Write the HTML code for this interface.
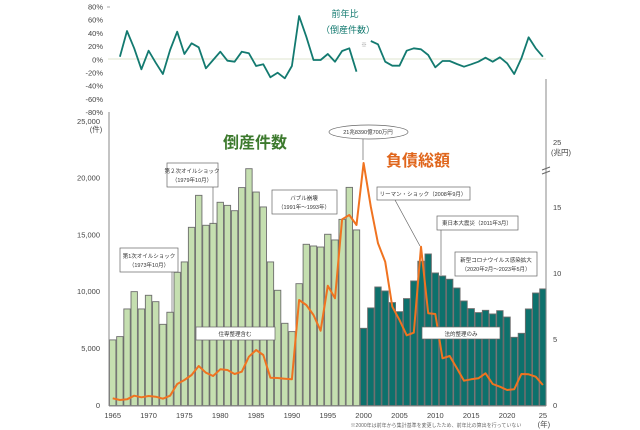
<!DOCTYPE html>
<html><head><meta charset="utf-8"><style>
body{margin:0;background:#fff;}
svg{display:block;font-family:"Liberation Sans","Noto Sans CJK JP",sans-serif;}
</style></head><body>
<svg id="s" width="640" height="430" viewBox="0 0 640 430" xmlns="http://www.w3.org/2000/svg">
<rect width="640" height="430" fill="#fff"/>
<g id="bars"></g>
<!-- axes -->
<line x1="109" y1="112" x2="109" y2="406" stroke="#888" stroke-width="1"/>
<line x1="107" y1="7" x2="110" y2="7" stroke="#aaa" stroke-width="1"/>
<line x1="109" y1="406" x2="546" y2="406" stroke="#888" stroke-width="1"/>
<line x1="546" y1="79" x2="546" y2="406" stroke="#888" stroke-width="1"/>
<path d="M542,170 l8,-3 M542,174 l8,-3" stroke="#666" stroke-width="1"/>
<line x1="108" y1="59" x2="546" y2="59" stroke="#dfe6cf" stroke-width="1"/>
<g id="lab" font-size="7.5" fill="#444"></g>
<path id="top" fill="none" stroke="#137a70" stroke-width="1.8" stroke-linejoin="round"/>
<path id="top2" fill="none" stroke="#137a70" stroke-width="1.8" stroke-linejoin="round"/>
<path id="debt" fill="none" stroke="#f07320" stroke-width="2" stroke-linejoin="round"/>
<text x="345" y="17" font-size="9" fill="#137a70" text-anchor="middle">前年比</text>
<text x="348" y="33" font-size="9" fill="#137a70" text-anchor="middle">（倒産件数）</text>
<text x="364" y="47" font-size="6" fill="#999" text-anchor="middle">※</text>
<text x="255" y="148" font-size="16" font-weight="bold" fill="#3d7a2e" text-anchor="middle">倒産件数</text>
<text x="418" y="166" font-size="16" font-weight="bold" fill="#e0661c" text-anchor="middle">負債総額</text>
<!-- annotations -->
<g stroke="#666" stroke-width="0.7" fill="#fff" font-size="5.5">
<line x1="172" y1="272" x2="172" y2="312"/>
<rect x="120" y="248" width="58" height="24"/>
<line x1="213" y1="187" x2="213" y2="224"/>
<rect x="167" y="163" width="51" height="24"/>
<rect x="272" y="190" width="65" height="24"/>
<rect x="196" y="327" width="79" height="13"/>
<line x1="363" y1="139" x2="363" y2="160"/>
<ellipse cx="368.5" cy="132" rx="39.5" ry="7"/>
<line x1="395" y1="200" x2="420" y2="246"/>
<rect x="377" y="187" width="93" height="13"/>
<line x1="441" y1="230" x2="441" y2="275"/>
<rect x="437" y="216" width="81" height="14"/>
<rect x="455" y="252" width="82" height="24"/>
<rect x="422" y="327" width="78" height="12"/>
</g>
<g font-size="5.5" fill="#333" text-anchor="middle">
<text x="149" y="258">第1次オイルショック</text><text x="149" y="267">（1973年10月）</text>
<text x="192" y="173">第２次オイルショック</text><text x="192" y="182">（1979年10月）</text>
<text x="304" y="200">バブル崩壊</text><text x="304" y="209">（1991年～1993年）</text>
<text x="235" y="336">住専整理含む</text>
<text x="368" y="134">21兆8390億700万円</text>
<text x="423" y="196">リーマン・ショック（2008年9月）</text>
<text x="477" y="225">東日本大震災（2011年3月）</text>
<text x="496" y="262">新型コロナウイルス感染拡大</text><text x="496" y="271">（2020年2月～2023年5月）</text>
<text x="461" y="336">法的整理のみ</text>
</g>
<text x="436" y="427" font-size="5" fill="#666" text-anchor="middle">※2000年は前年から集計基準を変更したため、前年比の算出を行っていない</text>
</svg>
<script>
var NS="http://www.w3.org/2000/svg";
function X(y){return 112.7+(y-1965)*7.17;}
function Y(v){return 405.6-v*284.6/25000;}
var cnt=[5770,6060,8490,10010,8490,9690,9130,7140,8200,11710,12620,15660,18470,15840,16010,17860,17590,17120,19150,20810,18760,17450,12620,10130,7230,6500,10710,14170,14020,13930,15050,14550,16360,19170,15430,
6790,8580,10420,10070,9050,8250,9400,10950,12680,13320,11650,11390,11100,10330,9190,8520,8170,8370,8050,8340,7780,6000,6350,8490,9890,10250];
var g=document.getElementById('bars');
cnt.forEach(function(v,i){var yr=1965+i;var r=document.createElementNS(NS,'rect');
r.setAttribute('x',X(yr)-3.2);r.setAttribute('width',6.4);r.setAttribute('y',Y(v));r.setAttribute('height',405.6-Y(v));
r.setAttribute('fill',yr<2000?'#c5dfb0':'#0d716c');r.setAttribute('stroke','#6d6d6d');r.setAttribute('stroke-width','0.9');g.appendChild(r);});
var debt=[865,870,868,857,862,858,860,866,857,822,810,795,768,788,798,778,780,792,785,740,720,735,803,804,806,808,570,585,615,662,527,565,328,315,345,159,290,400,455,590,630,676,668,410,610,612,745,738,775,812,808,805,790,822,830,840,838,792,793,800,825];
document.getElementById('debt').setAttribute('d',debt.map(function(y,i){return (i?'L':'M')+X(1965+i).toFixed(1)+','+(110+y/3).toFixed(1);}).join(''));
var t1=[170,93,145,208,152,188,222,150,95,162,130,142,205,180,155,182,185,155,160,198,193,232,218,235,198,48,110,180,180,162,185,153,145,215];
document.getElementById('top').setAttribute('d',t1.map(function(y,i){return (i?'L':'M')+X(1966+i).toFixed(1)+','+(y/3).toFixed(1);}).join(''));
var t2=[123,133,185,197,197,152,145,148,165,202,183,183,192,200,193,185,173,185,172,190,222,175,112,145,170];
document.getElementById('top2').setAttribute('d',t2.map(function(y,i){return (i?'L':'M')+X(2001+i).toFixed(1)+','+(y/3).toFixed(1);}).join(''));
var lab=document.getElementById('lab');
function T(x,y,s,a){var t=document.createElementNS(NS,'text');t.setAttribute('x',x);t.setAttribute('y',y);if(a)t.setAttribute('text-anchor',a);t.textContent=s;lab.appendChild(t);}
['80%','60%','40%','20%','0%','-20%','-40%','-60%','-80%'].forEach(function(s,i){T(103,9.5+i*13.2,s,'end');});
['0','5,000','10,000','15,000','20,000'].forEach(function(s,i){T(100,408+-i*56.9,s,'end');});
T(100,124,'25,000','end');T(96,132,'(件)','middle');
[1965,1970,1975,1980,1985,1990,1995,2000,2005,2010,2015,2020].forEach(function(y){T(X(y),418,''+y,'middle');});
T(X(2025),418,'25','middle');T(X(2025)+1,427,'(年)','middle');
[['0',408],['5',342],['10',276],['15',210],['25',145]].forEach(function(a){T(553,a[1],a[0]);});
T(551,155,'(兆円)');
</script>
</body></html>
